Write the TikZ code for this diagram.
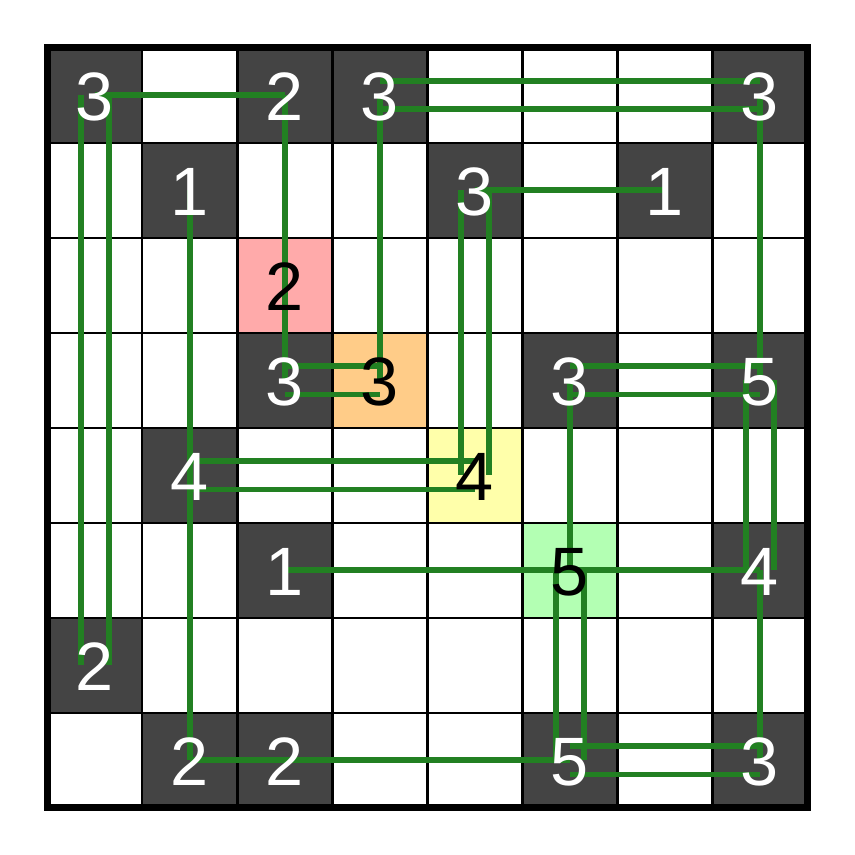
\documentclass[tikz,border=0pt]{standalone}
\usepackage{fontspec}
\setmainfont{Liberation Sans}
\usetikzlibrary{calc}
\definecolor{cellgray}{HTML}{444444}
\definecolor{hlred}{HTML}{FFAAAA}
\definecolor{hlorange}{HTML}{FFCC88}
\definecolor{hlyellow}{HTML}{FFFFAA}
\definecolor{hlgreen}{HTML}{B3FFB3}
\definecolor{bridgegreen}{RGB}{34,128,34}

\begin{document}
\begin{tikzpicture}[
  island/.style={draw=none,minimum size=1cm,inner sep=0pt,outer sep=0pt},
  bridge/.style={line width=1.65pt,draw=bridgegreen},
  clue/.style={font=\fontsize{20.5}{24}\selectfont,inner sep=0pt,yshift=-0.02cm}]
  \useasboundingbox (-1,-8) rectangle (8,1);
  \def\d{0.15}
  \def\islands{0/0/3/cellgray/white, 0/2/2/cellgray/white, 0/3/3/cellgray/white,
    0/7/3/cellgray/white, 1/1/1/cellgray/white, 1/4/3/cellgray/white,
    1/6/1/cellgray/white, 2/2/2/hlred/black, 3/2/3/cellgray/white,
    3/3/3/hlorange/black, 3/5/3/cellgray/white, 3/7/5/cellgray/white,
    4/1/4/cellgray/white, 4/4/4/hlyellow/black, 5/2/1/cellgray/white,
    5/5/5/hlgreen/black, 5/7/4/cellgray/white, 6/0/2/cellgray/white,
    7/1/2/cellgray/white, 7/2/2/cellgray/white, 7/5/5/cellgray/white,
    7/7/3/cellgray/white}
  % islands
  \foreach \r/\c/\n/\bg/\fg in \islands{
    \node[island,fill=\bg] (i\r\c) at (\c,-\r) {};
  }
  % grid
  \draw[line width=0.6pt,shift={(-0.5,-7.5)}] (0,0) grid (8,8);
  \draw[line width=2pt] (-0.5,-7.5) rectangle (7.5,0.5);
  % single bridges
  \foreach \a/\b in {00/02, 02/22, 22/32, 03/33, 07/37, 11/41, 14/16, 35/55,
    41/71, 52/55, 55/57, 71/72, 72/75, 57/77}{
    \draw[bridge] (i\a.center) -- (i\b.center);
  }
  % double bridges, vertical
  \foreach \a/\b in {00/60, 14/44, 37/57, 55/75}{
    \draw[bridge] ([xshift=-\d cm]i\a.center) -- ([xshift=-\d cm]i\b.center);
    \draw[bridge] ([xshift=\d cm]i\a.center) -- ([xshift=\d cm]i\b.center);
  }
  % double bridges, horizontal
  \foreach \a/\b in {03/07, 32/33, 35/37, 41/44, 75/77}{
    \draw[bridge] ([yshift=\d cm]i\a.center) -- ([yshift=\d cm]i\b.center);
    \draw[bridge] ([yshift=-\d cm]i\a.center) -- ([yshift=-\d cm]i\b.center);
  }
  % clues
  \foreach \r/\c/\n/\bg/\fg in \islands{
    \node[clue,text=\fg] (t\r\c) at (i\r\c) {\n};
  }
\end{tikzpicture}
\end{document}
